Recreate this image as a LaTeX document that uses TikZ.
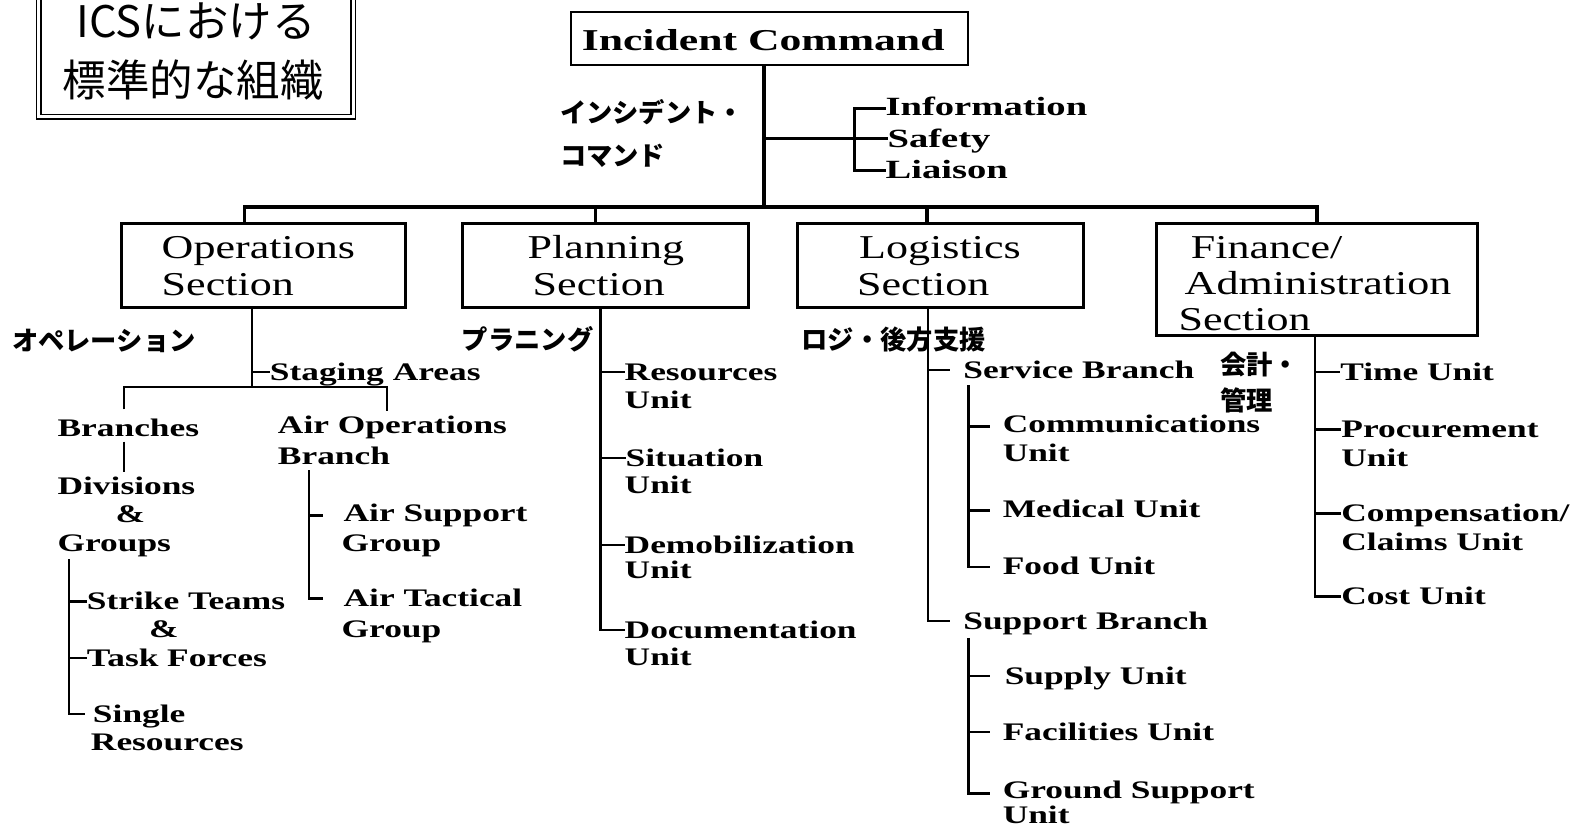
\documentclass[tikz,border=0pt]{standalone}
\usepackage{graphicx}
\usepackage{fontspec}
\setmainfont{Liberation Serif}
\newfontfamily\jpf{Noto Sans CJK JP}
\newcommand\sx[1]{\scalebox{1.4}[1]{#1}}
\newcommand\sxi[1]{\scalebox{1.47}[1]{#1}}
\newcommand\sxs[1]{\scalebox{1.32}[1]{#1}}
\begin{document}
\begin{tikzpicture}[x=1pt,y=-1pt,
  itm/.style={anchor=west, inner sep=0pt, outer sep=0pt, font=\fontsize{25}{30}\selectfont\bfseries, text height=16.5pt, text depth=0pt},
  stf/.style={anchor=west, inner sep=0pt, outer sep=0pt, font=\fontsize{26}{30}\selectfont\bfseries, text height=17.2pt, text depth=0pt},
  sec/.style={anchor=west, inner sep=0pt, outer sep=0pt, font=\fontsize{33}{36}\selectfont, text height=21.8pt, text depth=0pt},
  jp/.style={anchor=west, inner sep=0pt, outer sep=0pt, font=\jpf\bfseries\fontsize{26}{30}\selectfont, text height=20pt, text depth=0pt},
  ttl/.style={inner sep=0pt, outer sep=0pt, font=\jpf\fontsize{43}{50}\selectfont, text height=32pt, text depth=0pt},
  secbox/.style={draw, line width=3pt, inner sep=0pt},
  barline/.style={line width=3.5pt},
  staff/.style={line width=3pt},
  tree/.style={line width=2.2pt}]
\useasboundingbox (0,0) rectangle (1568,824);

% title
\node[draw, double, double distance=3pt, line width=1.3pt, minimum width=311pt, minimum height=150pt, inner sep=0pt] (title) at (194,40.5) {};
\node[ttl] (t1) at (194,21) {ICSにおける};
\node[ttl] (t2) at (191,79) {標準的な組織};

% incident command
\node[draw, line width=2pt, minimum width=393pt, minimum height=52pt, inner sep=0pt] (ic) at (761,38) {};
\node[inner sep=0pt, font=\fontsize{30}{34}\selectfont\bfseries, text height=19.9pt, text depth=0pt] (ict) at (755,40) {\scalebox{1.44}[1]{Incident Command}};

\coordinate (bar) at (756,205);
\draw[barline] (ic.south -| bar) -- (bar);

% staff
\node[stf] (info) at (876,106) {\sxi{Information}};
\node[stf] (safe) at (878,137) {\sxi{Safety}};
\node[stf] (liai) at (876,168) {\sxi{Liaison}};
\coordinate (br) at (845,137);
\coordinate (brt) at (845,107);
\coordinate (brb) at (845,169);
\draw[staff] (bar |- br) -- (br);
\draw[staff] (info.west |- brt) -- (brt) -- (brb) -- (liai.west |- brb);
\draw[staff] (br) -- (safe.west |- br);

\node[jp] (jic1) at (554,111) {インシデント・};
\node[jp] (jic2) at (554,154) {コマンド};

% sections
\node[secbox, minimum width=281pt, minimum height=83pt] (ops) at (260.5,262.5) {};
\node[secbox, minimum width=282pt, minimum height=83pt] (plan) at (599,262.5) {};
\node[secbox, minimum width=283pt, minimum height=83pt] (log) at (930.5,262.5) {};
\node[secbox, minimum width=318pt, minimum height=111pt] (fin) at (1303,276.5) {};

\node[sec] (opsT1) at (160,245) {\sxs{Operations}};
\node[sec] (opsT2) at (160,281) {\sxs{Section}};
\node[sec] (planT1) at (522,245) {\sxs{Planning}};
\node[sec] (planT2) at (527,281) {\sxs{Section}};
\node[sec] (logT1) at (850,245) {\sxs{Logistics}};
\node[sec] (logT2) at (848,281) {\sxs{Section}};
\node[sec] (finT1) at (1178,245) {\sxs{Finance/}};
\node[sec] (finT2) at (1172,280) {\sxs{Administration}};
\node[sec] (finT3) at (1166,316) {\sxs{Section}};

% top bar
\coordinate (od) at (242,205);
\coordinate (pd) at (589,205);
\coordinate (ld) at (917,205);
\draw[barline] (od |- ops.north) -- (od) -| (fin.north);
\draw[barline] (pd) -- (pd |- plan.north);
\draw[barline] (ld) -- (ld |- log.north);

% japanese labels
\node[jp] (jops) at (12,337) {オペレーション};
\node[jp] (jplan) at (457,336) {プラニング};
\node[jp] (jlog) at (793,336) {ロジ・後方支援};
\node[jp] (jfin1) at (1207,360) {会計・};
\node[jp] (jfin2) at (1207,396) {管理};

% operations subtree
\node[itm] (stag) at (267,368) {\sx{Staging Areas}};
\node[itm] (bran) at (57,424) {\sx{Branches}};
\node[itm] (air1) at (275,421) {\sx{Air Operations}};
\node[itm] (air2) at (275,451) {\sx{Branch}};
\node[itm] (div1) at (57,481) {\sx{Divisions}};
\node[itm, anchor=center] (div2) at (129,509) {\sx{\&}};
\node[itm] (div3) at (57,537) {\sx{Groups}};
\node[itm] (stk) at (86,595) {\sx{Strike Teams}};
\node[itm, anchor=center] (stk2) at (162,622) {\sx{\&}};
\node[itm] (task) at (86,651) {\sx{Task Forces}};
\node[itm] (sing1) at (92,706) {\sx{Single}};
\node[itm] (sing2) at (90,734) {\sx{Resources}};
\node[itm] (asg1) at (340,508) {\sx{Air Support}};
\node[itm] (asg2) at (338,537) {\sx{Group}};
\node[itm] (atg1) at (340,592) {\sx{Air Tactical}};
\node[itm] (atg2) at (338,622) {\sx{Group}};

\coordinate (oj) at (249,383);
\coordinate (ol) at (123,383);
\coordinate (orr) at (383,383);
\coordinate (ol2) at (123,405);
\coordinate (or2) at (383,407);
\draw[tree] (oj |- ops.south) -- (oj);
\draw[tree] (oj |- stag.west) -- (stag.west);
\draw[tree] (ol2) -- (ol) -- (orr) -- (or2);
\coordinate (bd1) at (123,437);
\coordinate (bd2) at (123,467);
\draw[tree] (bd1) -- (bd2);
\coordinate (gv) at (68,553);
\coordinate (gc) at (84,706);
\draw[tree] (gv) |- (gc);
\draw[tree] (gv |- stk.west) -- (stk.west);
\draw[tree] (gv |- task.west) -- (task.west);
\coordinate (av) at (306,465);
\coordinate (at1) at (320,510);
\coordinate (ac) at (320,592);
\draw[tree] (av) |- (ac);
\draw[tree] (av |- at1) -- (at1);

% planning subtree
\node[itm] (res1) at (618,368) {\sx{Resources}};
\node[itm] (res2) at (618,396) {\sx{Unit}};
\node[itm] (sit1) at (619,453) {\sx{Situation}};
\node[itm] (sit2) at (618,480) {\sx{Unit}};
\node[itm] (dem1) at (618,539) {\sx{Demobilization}};
\node[itm] (dem2) at (618,564) {\sx{Unit}};
\node[itm] (doc1) at (618,623) {\sx{Documentation}};
\node[itm] (doc2) at (618,650) {\sx{Unit}};
\coordinate (pv) at (594,304);
\draw[tree] (pv |- plan.south) |- (doc1.west);
\draw[tree] (pv |- res1.west) -- (res1.west);
\draw[tree] (pv |- sit1.west) -- (sit1.west);
\draw[tree] (pv |- dem1.west) -- (dem1.west);

% logistics subtree
\node[itm] (serb) at (953,366) {\sx{Service Branch}};
\node[itm] (supb) at (953,614) {\sx{Support Branch}};
\node[itm] (com1) at (992,420) {\sx{Communications}};
\node[itm] (com2) at (992,448) {\sx{Unit}};
\node[itm] (med) at (992,504) {\sx{Medical Unit}};
\node[itm] (food) at (992,560) {\sx{Food Unit}};
\node[itm] (sup) at (994,669) {\sx{Supply Unit}};
\node[itm] (fac) at (992,724) {\sx{Facilities Unit}};
\node[itm] (gs1) at (992,782) {\sx{Ground Support}};
\node[itm] (gs2) at (992,806) {\sx{Unit}};
\coordinate (lv) at (918,304);
\coordinate (lst) at (940,366);
\coordinate (lsc) at (940,614);
\draw[tree] (lv |- log.south) |- (lsc);
\draw[tree] (lv |- lst) -- (lst);
\coordinate (sv) at (958,381);
\coordinate (sc1) at (979,422);
\coordinate (sm) at (979,505);
\coordinate (sf) at (979,561);
\draw[tree] (sv) |- (sf);
\draw[tree] (sv |- sc1) -- (sc1);
\draw[tree] (sv |- sm) -- (sm);
\coordinate (uv) at (958,631);
\coordinate (us) at (979,669);
\coordinate (uf) at (979,724);
\coordinate (ug) at (979,785);
\draw[tree] (uv) |- (ug);
\draw[tree] (uv |- us) -- (us);
\draw[tree] (uv |- uf) -- (uf);

% finance subtree
\node[itm] (time) at (1326,368) {\sx{Time Unit}};
\node[itm] (pro1) at (1327,425) {\sx{Procurement}};
\node[itm] (pro2) at (1327,453) {\sx{Unit}};
\node[itm] (cmp1) at (1327,508) {\sx{Compensation/}};
\node[itm] (cmp2) at (1327,536) {\sx{Claims Unit}};
\node[itm] (cost) at (1327,590) {\sx{Cost Unit}};
\coordinate (fv) at (1301,333);
\draw[tree] (fv |- fin.south) |- (cost.west);
\draw[tree] (fv |- time.west) -- (time.west);
\draw[tree] (fv |- pro1.west) -- (pro1.west);
\draw[tree] (fv |- cmp1.west) -- (cmp1.west);
\end{tikzpicture}
\end{document}
